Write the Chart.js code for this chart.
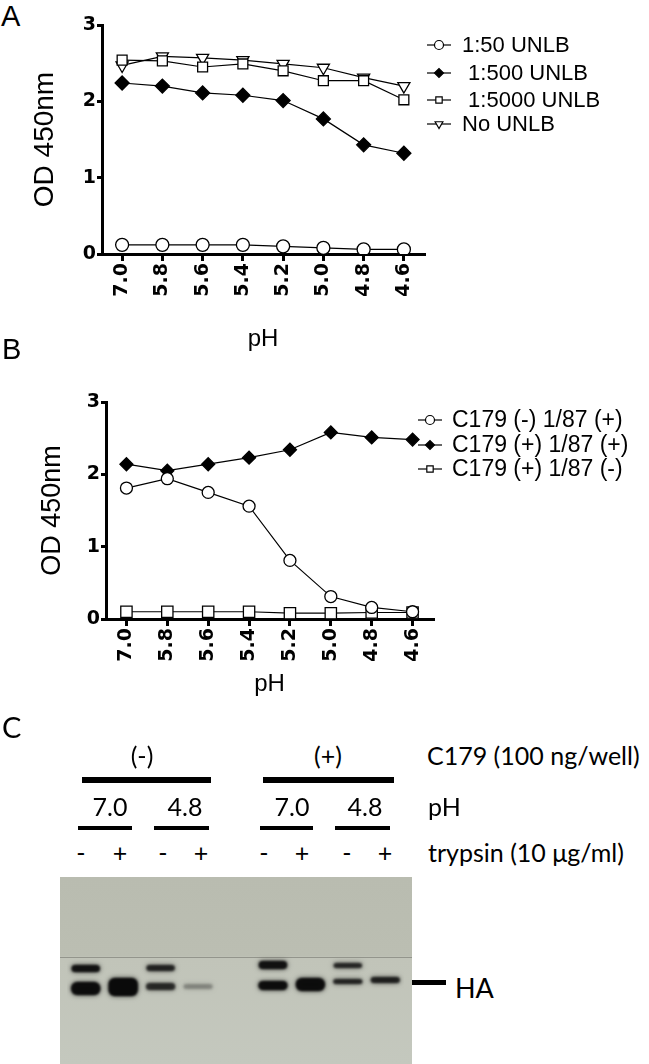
<!DOCTYPE html>
<html>
<head>
<meta charset="utf-8">
<script src="https://cdn.jsdelivr.net/npm/chart.js@4.4.1/dist/chart.umd.min.js"></script>
<style>
  html, body { margin: 0; padding: 0; background: #fff; }
  body { width: 649px; height: 1064px; position: relative; overflow: hidden; }
  canvas { position: absolute; }
  .lbl { position: absolute; white-space: nowrap; color: #000; line-height: 1; }
  .panel { font-family: "Liberation Sans", Arial, sans-serif; font-size: 29px; }
  .cal { font-family: Lato, "Open Sans", sans-serif; font-size: 25px; }
  .mid { transform: translate(-50%, -50%); }
  .lft { transform: translateY(-50%); }
  .bar { position: absolute; background: #000; }
</style>
</head>
<body>

<div class="lbl panel" style="left:1px; top:2px;">A</div>
<canvas id="chartA" width="649" height="360" style="left:0; top:0;"></canvas>

<div class="lbl panel" style="left:2px; top:335px;">B</div>
<canvas id="chartB" width="649" height="340" style="left:0; top:370px;"></canvas>

<!-- panel C annotations -->
<div class="lbl cal" style="left:2px; top:712px; font-size:29px;">C</div>
<div class="lbl cal mid" style="left:142px; top:755px;">(-)</div>
<div class="lbl cal mid" style="left:328px; top:755px;">(+)</div>
<div class="lbl cal lft" style="left:427px; top:755px;">C179 (100 ng/well)</div>
<div class="bar" style="left:82px; top:777px; width:129px; height:6px;"></div>
<div class="bar" style="left:263px; top:777px; width:131px; height:6px;"></div>
<div class="lbl cal mid" style="left:110px; top:806px;">7.0</div>
<div class="lbl cal mid" style="left:185px; top:806px;">4.8</div>
<div class="lbl cal mid" style="left:292px; top:806px;">7.0</div>
<div class="lbl cal mid" style="left:365px; top:806px;">4.8</div>
<div class="lbl cal lft" style="left:428px; top:806px;">pH</div>
<div class="bar" style="left:78px; top:826px; width:54px; height:4px;"></div>
<div class="bar" style="left:154px; top:826px; width:55px; height:4px;"></div>
<div class="bar" style="left:260px; top:826px; width:53px; height:4px;"></div>
<div class="bar" style="left:335px; top:826px; width:55px; height:4px;"></div>
<div class="lbl cal mid" style="left:81px; top:852px;">-</div>
<div class="lbl cal mid" style="left:120px; top:852px;">+</div>
<div class="lbl cal mid" style="left:163px; top:852px;">-</div>
<div class="lbl cal mid" style="left:201px; top:852px;">+</div>
<div class="lbl cal mid" style="left:264px; top:852px;">-</div>
<div class="lbl cal mid" style="left:302px; top:852px;">+</div>
<div class="lbl cal mid" style="left:347px; top:852px;">-</div>
<div class="lbl cal mid" style="left:385px; top:852px;">+</div>
<div class="lbl cal lft" style="left:428px; top:852px;">trypsin (10 μg/ml)</div>

<canvas id="blot" width="352" height="187" style="left:60px; top:877px;"></canvas>
<div class="bar" style="left:412px; top:980px; width:34px; height:5px;"></div>
<div class="lbl cal lft" style="left:455px; top:987px; font-size:27px;">HA</div>

<script>
// pH series on the x axis
const phLabels = ['7.0', '5.8', '5.6', '5.4', '5.2', '5.0', '4.8', '4.6'];

// Panel A - OD 450nm
const unlb50   = [0.12, 0.12, 0.12, 0.12, 0.10, 0.08, 0.06, 0.06];
const unlb500  = [2.24, 2.20, 2.11, 2.08, 2.01, 1.77, 1.43, 1.32];
const unlb5000 = [2.54, 2.53, 2.45, 2.49, 2.40, 2.27, 2.27, 2.02];
const noUnlb   = [2.47, 2.59, 2.57, 2.54, 2.49, 2.44, 2.31, 2.20];

// Panel B - OD 450nm
const c179NegPos = [1.81, 1.94, 1.75, 1.56, 0.81, 0.31, 0.16, 0.10];
const c179PosPos = [2.14, 2.05, 2.14, 2.23, 2.34, 2.58, 2.51, 2.48];
const c179PosNeg = [0.10, 0.10, 0.10, 0.10, 0.08, 0.08, 0.09, 0.09];

const odTicks = [0, 1, 2, 3];

// Panel C - blot lanes (empty slot between the two C179 groups)
const laneLabels = ['-', '+', '-', '+', '', '-', '+', '-', '+'];
const upperBand = [[88, 95], null, [88, 94], null, null, [84, 92], null, [86, 91], null];
const lowerBand = [[105, 118], [101, 119], [106, 113], [107, 112], null, [104, 113], [101, 114], [102, 107], [100, 106]];
const upperDensity = [0.95, 0, 0.8, 0, 0, 0.95, 0, 0.78, 0];
const lowerDensity = [0.97, 1, 0.72, 0.25, 0, 0.95, 0.97, 0.78, 0.8];

Chart.defaults.font.family = '"Liberation Sans", Arial, sans-serif';
Chart.defaults.color = '#000';
Chart.defaults.animation = false;

const tickFont = { family: '"DejaVu Sans", sans-serif', size: 19, weight: 'bold' };

// legend drawn to the right of the plot, line + marker like the original
const sideLegend = {
    id: 'sideLegend',
    afterDraw(chart, args, opts) {
        const ctx = chart.ctx;
        ctx.save();
        ctx.font = opts.font;
        ctx.textBaseline = 'middle';
        chart.data.datasets.forEach((ds, i) => {
            const y = opts.rows[i];
            const cx = (opts.x0 + opts.x1) / 2;
            ctx.strokeStyle = '#000';
            ctx.lineWidth = 1.2;
            ctx.beginPath();
            ctx.moveTo(opts.x0, y);
            ctx.lineTo(opts.x1, y);
            ctx.stroke();
            ctx.fillStyle = ds.pointBackgroundColor;
            Chart.helpers.drawPoint(ctx, {
                pointStyle: ds.pointStyle,
                rotation: ds.pointRotation || 0,
                radius: opts.radius,
                borderWidth: 1.2
            }, cx, y);
            ctx.fillStyle = '#000';
            ctx.fillText(ds.label, opts.textX, y + 1);
        });
        ctx.restore();
    }
};

function series(label, data, style, fill, radius, rotation) {
    return {
        label: label,
        data: data,
        borderColor: '#000',
        borderWidth: 1.2,
        pointStyle: style,
        pointRotation: rotation || 0,
        pointRadius: radius,
        pointHoverRadius: radius,
        pointBorderWidth: 1.3,
        pointBorderColor: '#000',
        pointBackgroundColor: fill,
        tension: 0
    };
}

function odOptions(cfg) {
    return {
        responsive: false,
        animation: false,
        layout: { padding: { left: 0, top: cfg.top, right: cfg.right, bottom: 0 } },
        plugins: {
            legend: { display: false },
            tooltip: { enabled: false },
            sideLegend: cfg.legend
        },
        scales: {
            x: {
                type: 'category',
                offset: true,
                grid: { display: true, drawOnChartArea: false, drawTicks: true, tickLength: 7, lineWidth: 3, color: '#000' },
                border: { display: true, color: '#000', width: 3 },
                ticks: { minRotation: 90, maxRotation: 90, autoSkip: false, padding: 2, font: tickFont },
                title: { display: true, text: 'pH', font: { size: 24 }, padding: { top: 0, bottom: cfg.phPad } },
                afterFit: s => { s.height = cfg.xHeight; }
            },
            y: {
                min: 0,
                max: 3,
                afterBuildTicks: s => { s.ticks = odTicks.map(v => ({ value: v })); },
                grid: { display: true, drawOnChartArea: false, drawTicks: true, tickLength: 5, lineWidth: 3, color: '#000' },
                border: { display: true, color: '#000', width: 3 },
                ticks: { padding: 1, font: tickFont },
                title: { display: true, text: 'OD 450nm', font: { size: cfg.odSize }, padding: { top: cfg.odPad, bottom: 0 } },
                afterFit: s => { s.width = cfg.yWidth; }
            }
        }
    };
}

// Panel A
new Chart(document.getElementById('chartA'), {
    type: 'line',
    data: {
        labels: phLabels,
        datasets: [
            series('1:50 UNLB', unlb50, 'circle', '#fff', 6.5),
            series(' 1:500 UNLB', unlb500, 'rectRot', '#000', 7),
            series(' 1:5000 UNLB', unlb5000, 'rect', '#fff', 7),
            series('No UNLB', noUnlb, 'triangle', '#fff', 7, 180)
        ]
    },
    options: odOptions({
        top: 25, right: 225, xHeight: 106, yWidth: 102, phPad: 6, odSize: 28, odPad: 28,
        legend: { font: '22px "Liberation Sans", Arial, sans-serif', x0: 427, x1: 451, textX: 462, radius: 4.5, rows: [45, 73, 100, 124] }
    }),
    plugins: [sideLegend]
});

// Panel B
new Chart(document.getElementById('chartB'), {
    type: 'line',
    data: {
        labels: phLabels,
        datasets: [
            series('C179 (-) 1/87 (+)', c179NegPos, 'circle', '#fff', 6),
            series('C179 (+) 1/87 (+)', c179PosPos, 'rectRot', '#000', 6.5),
            series('C179 (+) 1/87 (-)', c179PosNeg, 'rect', '#fff', 8)
        ]
    },
    options: odOptions({
        top: 32, right: 216, xHeight: 91, yWidth: 106, phPad: 11, odSize: 27, odPad: 36,
        legend: { font: '23px "Liberation Sans", Arial, sans-serif', x0: 418, x1: 442, textX: 452, radius: 4.5, rows: [50, 75, 99] }
    }),
    plugins: [sideLegend]
});

// Panel C - western blot, bands as floating bars
const blotBackground = {
    id: 'blotBackground',
    beforeDraw(chart) {
        const ctx = chart.ctx;
        const g = ctx.createLinearGradient(0, 0, 0, chart.height);
        g.addColorStop(0, '#b9bcb0');
        g.addColorStop(0.42, '#bbbeb2');
        g.addColorStop(0.43, '#c1c4b9');
        g.addColorStop(1, '#c4c8be');
        ctx.save();
        ctx.fillStyle = g;
        ctx.fillRect(0, 0, chart.width, chart.height);
        ctx.fillStyle = 'rgba(110,112,104,0.55)';
        ctx.fillRect(0, chart.scales.y.getPixelForValue(80), chart.width, 1);
        ctx.restore();
    },
    beforeDatasetsDraw(chart) {
        // soft edges on the bands
        const ctx = chart.ctx;
        ctx.save();
        ctx.shadowColor = 'rgba(0,0,0,0.75)';
        ctx.shadowBlur = 5;
        ctx.filter = 'blur(1px)';
    },
    afterDatasetsDraw(chart) {
        chart.ctx.restore();
    }
};

new Chart(document.getElementById('blot'), {
    type: 'bar',
    data: {
        labels: laneLabels,
        datasets: [
            {
                data: upperBand,
                grouped: false,
                backgroundColor: upperDensity.map(a => 'rgba(14,14,14,' + a + ')'),
                borderSkipped: false,
                borderRadius: 5,
                barPercentage: 0.76,
                categoryPercentage: 1
            },
            {
                data: lowerBand,
                grouped: false,
                backgroundColor: lowerDensity.map(a => 'rgba(10,10,10,' + a + ')'),
                borderSkipped: false,
                borderRadius: 6,
                barPercentage: 0.78,
                categoryPercentage: 1
            }
        ]
    },
    options: {
        responsive: false,
        animation: false,
        layout: { padding: { left: 7, right: 8, top: 0, bottom: 0 } },
        plugins: { legend: { display: false }, tooltip: { enabled: false } },
        scales: {
            x: { display: false, offset: true },
            y: { display: false, reverse: true, min: 0, max: 187 }
        }
    },
    plugins: [blotBackground]
});
</script>
</body>
</html>
